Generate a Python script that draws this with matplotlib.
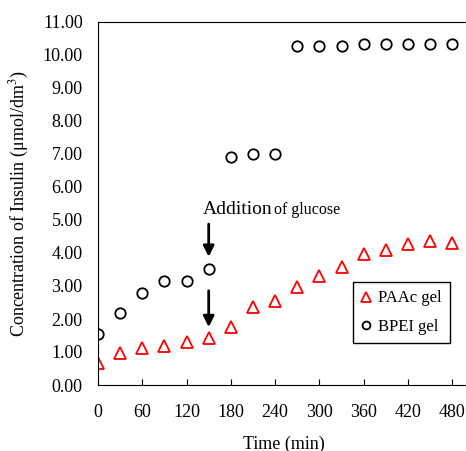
import matplotlib
matplotlib.use("Agg")
import matplotlib.pyplot as plt

plt.rcParams['font.family'] = ['Liberation Serif', 'DejaVu Serif']
plt.rcParams['mathtext.fontset'] = 'stix'

time = [0, 30, 60, 90, 120, 150, 180, 210, 240, 270, 300, 330, 360, 390, 420, 450, 480]
paac = [0.67, 0.97, 1.12, 1.19, 1.31, 1.41, 1.75, 2.35, 2.55, 2.98, 3.31, 3.57,
        3.97, 4.09, 4.26, 4.36, 4.29]
bpei = [1.55, 2.19, 2.80, 3.16, 3.16, 3.52, 6.90, 7.00, 7.00, 10.27, 10.27, 10.27,
        10.32, 10.32, 10.32, 10.32, 10.32]

fig = plt.figure(figsize=(4.66, 4.51), dpi=100)
ax = fig.add_axes([98 / 466, 1 - 385 / 451, 1 - 98 / 466 + 0.01, (385 - 22) / 451])

ax.plot(time, paac, linestyle='none', marker='^', markersize=9,
        markerfacecolor='none', markeredgecolor='red', markeredgewidth=1.3,
        label='PAAc gel')
ax.plot(time, bpei, linestyle='none', marker='o', markersize=7.5,
        markerfacecolor='none', markeredgecolor='black', markeredgewidth=1.3,
        label='BPEI gel')

ax.set_xlim(0, 505)
ax.set_ylim(0, 11)
ax.set_xticks(range(0, 481, 60))
ax.set_yticks(range(0, 12))
ax.set_yticklabels(['%.2f' % v for v in range(0, 12)])
ax.tick_params(direction='in', labelsize=13, length=4)
ax.tick_params(axis='x', pad=14)
ax.tick_params(axis='y', left=False, pad=11)
ax.spines['right'].set_visible(False)

ax.set_xlabel('Time (min)', fontsize=13, labelpad=10)
ax.set_ylabel('Concentration of Insulin (μmol/dm$^3$)', fontsize=13, labelpad=8)

ax.annotate('', xy=(150, 3.80), xytext=(150, 4.96),
            arrowprops=dict(arrowstyle='-|>', color='black', lw=2, mutation_scale=16))
ax.annotate('', xy=(150, 1.67), xytext=(150, 2.94),
            arrowprops=dict(arrowstyle='-|>', color='black', lw=2, mutation_scale=16))
ax.text(142, 5.05, 'Addition', fontsize=14, va='bottom', ha='left')
ax.text(238, 5.05, 'of glucose', fontsize=11.5, va='bottom', ha='left')

leg = ax.legend(loc='upper left', bbox_to_anchor=(353 / 466, 1 - 282 / 451),
                bbox_transform=fig.transFigure, borderaxespad=0, fontsize=12,
                fancybox=False, edgecolor='black', handlelength=0.6,
                handletextpad=0.4, borderpad=0.5, labelspacing=0.75,
                markerscale=0.75)
leg.get_frame().set_linewidth(1.0)
leg.get_frame().set_alpha(1)

fig.savefig('out.png', dpi=100)
